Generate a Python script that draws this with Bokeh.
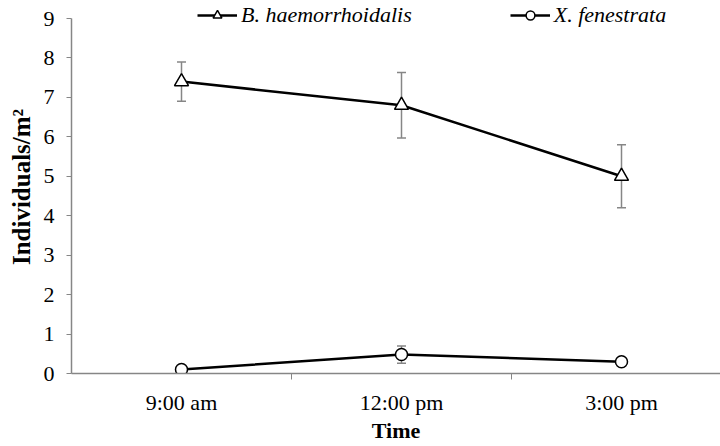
from bokeh.plotting import figure
from bokeh.models import FixedTicker, Range1d, Legend, LegendItem
from bokeh.embed import file_html
from bokeh.resources import INLINE

categories = ["9:00 am", "12:00 pm", "3:00 pm"]
b_vals = [7.4, 6.8, 5.0]
b_err = [0.5, 0.83, 0.8]
x_vals = [0.1, 0.48, 0.3]
x_err = [0.05, 0.22, 0.1]
y_ticks = [0, 1, 2, 3, 4, 5, 6, 7, 8, 9]

pos = [i + 0.5 for i in range(len(categories))]
FONT = "Liberation Serif"
GRAY = "#868686"

p = figure(width=720, height=446, output_backend="svg", toolbar_location=None,
           x_range=Range1d(0, 649 / 220), y_range=Range1d(0, 9 * 373 / 355),
           min_border_left=71, min_border_right=0, min_border_top=0, min_border_bottom=73)
p.outline_line_color = None
p.xgrid.visible = False
p.ygrid.visible = False
p.background_fill_color = "white"

# axes
p.xaxis.ticker = FixedTicker(ticks=pos, minor_ticks=[1, 2])
p.xaxis.major_label_overrides = {pos[i]: categories[i] for i in range(len(categories))}
p.xaxis.major_tick_out = 0
p.xaxis.major_tick_in = 0
p.xaxis.minor_tick_out = 6
p.xaxis.minor_tick_in = 0
p.xaxis.axis_line_color = GRAY
p.xaxis.minor_tick_line_color = GRAY
p.xaxis.axis_line_width = 1.5
p.xaxis.major_label_text_font = FONT
p.xaxis.major_label_text_font_size = "22px"
p.xaxis.major_label_text_color = "black"
p.xaxis.major_label_standoff = 10
p.xaxis.axis_label = "Time"
p.xaxis.axis_label_text_font = FONT
p.xaxis.axis_label_text_font_size = "22px"
p.xaxis.axis_label_text_font_style = "bold"
p.xaxis.axis_label_text_color = "black"
p.xaxis.axis_label_standoff = 0

p.yaxis.ticker = FixedTicker(ticks=y_ticks)
p.yaxis.bounds = (0, 9)
p.yaxis.major_tick_out = 5
p.yaxis.major_tick_in = 0
p.yaxis.minor_tick_line_color = None
p.yaxis.axis_line_color = GRAY
p.yaxis.major_tick_line_color = GRAY
p.yaxis.axis_line_width = 1.5
p.yaxis.major_label_text_font = FONT
p.yaxis.major_label_text_font_size = "22px"
p.yaxis.major_label_text_color = "black"
p.yaxis.major_label_standoff = 12
p.yaxis.axis_label = "Individuals/m\u00b2"
p.yaxis.axis_label_text_font = FONT
p.yaxis.axis_label_text_font_size = "25px"
p.yaxis.axis_label_text_font_style = "bold"
p.yaxis.axis_label_text_color = "black"
p.yaxis.axis_label_standoff = 6

# error bars
for vals, errs in ((b_vals, b_err), (x_vals, x_err)):
    lo = [v - e for v, e in zip(vals, errs)]
    hi = [v + e for v, e in zip(vals, errs)]
    p.segment(x0=pos, y0=lo, x1=pos, y1=hi, line_color=GRAY, line_width=1.5)
    p.scatter(x=pos + pos, y=lo + hi, marker="dash", size=9, line_color=GRAY, line_width=1.5)

b_line = p.line(pos, b_vals, line_color="black", line_width=2.5)
b_mark = p.scatter(pos, b_vals, marker="triangle", size=14, fill_color="white",
                   line_color="black", line_width=1.5)
x_line = p.line(pos, x_vals, line_color="black", line_width=2.5)
x_mark = p.scatter(pos, x_vals, marker="circle", size=12, fill_color="white",
                   line_color="black", line_width=1.5)

legend = Legend(items=[
    LegendItem(label="B. haemorrhoidalis", renderers=[b_line, b_mark]),
    LegendItem(label="X. fenestrata", renderers=[x_line, x_mark]),
], orientation="horizontal", location=(126, 345))
legend.padding = 0
legend.margin = 0
legend.spacing = 98
legend.glyph_width = 40
legend.glyph_height = 22
legend.label_height = 22
legend.label_standoff = 4
legend.label_text_font = FONT
legend.label_text_font_size = "22px"
legend.label_text_font_style = "italic"
legend.label_text_color = "black"
legend.border_line_color = None
legend.background_fill_alpha = 0
p.add_layout(legend, "center")

open("out.html", "w").write(file_html(p, INLINE))
